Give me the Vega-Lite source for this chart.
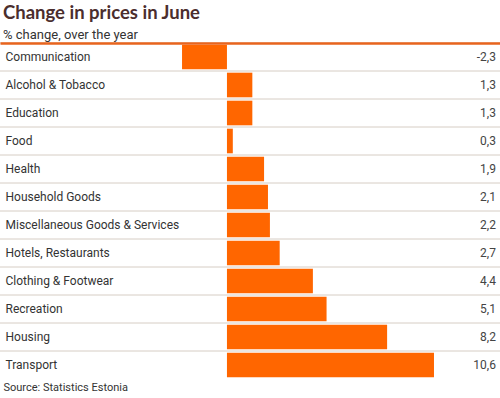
{
  "$schema": "https://vega.github.io/schema/vega-lite/v6.json",
  "width": 500,
  "height": 336,
  "autosize": {"type": "none"},
  "padding": {"top": 43, "left": 0, "right": 0, "bottom": 19},
  "background": "white",
  "title": {
    "text": "Change in prices in June",
    "subtitle": "% change, over the year",
    "anchor": "start",
    "frame": "group",
    "font": "Lato",
    "fontSize": 18.5,
    "fontWeight": "bold",
    "color": "#4b2e2e",
    "subtitleFont": "Roboto",
    "subtitleFontSize": 13,
    "subtitleColor": "#333333",
    "subtitlePadding": 6,
    "offset": 1,
    "dx": 3
  },
  "config": {
    "view": {"stroke": null},
    "locale": {"number": {"decimal": ",", "thousands": " ", "grouping": [3], "currency": ["", " €"], "minus": "-"}}
  },
  "data": {
    "values": [
      {"category": "Communication", "change": -2.3},
      {"category": "Alcohol & Tobacco", "change": 1.3},
      {"category": "Education", "change": 1.3},
      {"category": "Food", "change": 0.3},
      {"category": "Health", "change": 1.9},
      {"category": "Household Goods", "change": 2.1},
      {"category": "Miscellaneous Goods & Services", "change": 2.2},
      {"category": "Hotels, Restaurants", "change": 2.7},
      {"category": "Clothing & Footwear", "change": 4.4},
      {"category": "Recreation", "change": 5.1},
      {"category": "Housing", "change": 8.2},
      {"category": "Transport", "change": 10.6}
    ]
  },
  "layer": [
    {
      "mark": {"type": "rule", "color": "#d6cdc4", "strokeWidth": 1},
      "encoding": {
        "y": {"field": "category", "type": "nominal", "sort": null, "bandPosition": 0,
              "scale": {"paddingInner": 0, "paddingOuter": 0}}
      }
    },
    {
      "mark": {"type": "bar", "color": "#ff6600", "height": {"band": 0.88}},
      "encoding": {
        "y": {"field": "category", "type": "nominal", "sort": null,
              "scale": {"paddingInner": 0, "paddingOuter": 0},
              "axis": {"title": null, "orient": "left", "labelAlign": "left", "labelPadding": -5, "ticks": false, "domain": false, "grid": false,
                       "labelFont": "Roboto", "labelFontSize": 12, "labelColor": "#333333", "labelBaseline": "middle", "labelLimit": 300}},
        "x": {"field": "change", "type": "quantitative",
              "scale": {"domain": [-11.62, 13.98], "nice": false, "zero": false},
              "axis": {"orient": "top", "title": null, "labels": false, "ticks": false, "grid": false, "domainColor": "#e8641e", "domainWidth": 2.5, "zindex": 2}}
      }
    },
    {
      "mark": {"type": "text", "align": "right", "baseline": "middle", "font": "Roboto", "fontSize": 12, "color": "#444444"},
      "encoding": {
        "y": {"field": "category", "type": "nominal", "sort": null,
              "scale": {"paddingInner": 0, "paddingOuter": 0}},
        "x": {"datum": 13.77, "type": "quantitative",
              "scale": {"domain": [-11.62, 13.98], "nice": false, "zero": false},
              "axis": {"orient": "bottom", "title": "Source: Statistics Estonia", "labels": false, "ticks": false, "grid": false, "domain": false,
                       "titleAnchor": "start", "titleAlign": "left", "titleX": 3, "titlePadding": 2,
                       "titleFont": "Roboto", "titleFontSize": 11, "titleFontWeight": "normal", "titleColor": "#333333"}},
        "text": {"field": "change", "type": "quantitative", "format": ".1f"}
      }
    }
  ]
}
